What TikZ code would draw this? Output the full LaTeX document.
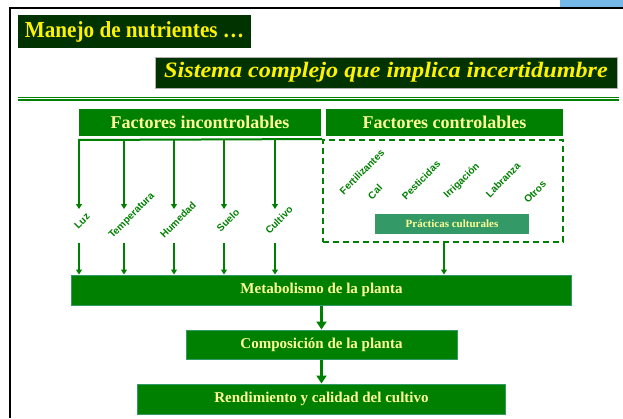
\documentclass[tikz,border=0pt]{standalone}
\usepackage{fontspec}
\setmainfont{Liberation Serif}
\newfontfamily\lsans{Liberation Sans}
\newfontfamily\subfont[FakeStretch=1.1]{Liberation Serif}
\newfontfamily\ttlfont[FakeStretch=0.92]{Liberation Serif}
\usetikzlibrary{arrows.meta}
\definecolor{dkgreen}{HTML}{003300}
\definecolor{mgreen}{HTML}{008000}
\definecolor{sgreen}{HTML}{339966}
\definecolor{pyellow}{HTML}{FFFF99}
\definecolor{skyblue}{HTML}{75B9E8}
\tikzset{
 titlebox/.style={fill=dkgreen, text=yellow, inner sep=0pt},
 factbox/.style={fill=mgreen, text=pyellow, inner sep=0pt, minimum height=27pt, font=\fontsize{18}{20}\selectfont\bfseries},
 flowbox/.style={fill=mgreen, draw=sgreen, line width=1pt, text=pyellow, inner sep=0pt, font=\fontsize{15}{17}\selectfont\bfseries},
 lbl/.style={rotate=45, text=mgreen, font=\lsans\fontsize{10}{11}\selectfont\bfseries, inner sep=0pt},
 arr/.style={draw=mgreen, line width=2pt, -{Triangle[width=6pt,length=5pt]}},
 bigarr/.style={draw=mgreen, line width=3pt, -{Triangle[width=10pt,length=8pt]}},
 dashbox/.style={draw=mgreen, line width=2pt, dash pattern=on 6pt off 4pt, inner sep=0pt},
}
\begin{document}
\begin{tikzpicture}[x=1pt,y=-1pt]
\useasboundingbox (0,0) rectangle (623,418);
% frame
\fill[skyblue] (560,0) rectangle (623,7);
\draw[black, line width=1.5pt] (10,418) -- (10,8) -- (623,8);
% titles
\node[titlebox, minimum width=233pt, minimum height=33pt, font=\ttlfont\fontsize{23}{25}\selectfont\bfseries] (title) at (134.5,31.5) {Manejo de nutrientes \ldots};
\node[titlebox, draw=gray!60, line width=0.6pt, minimum width=462pt, minimum height=31pt, font=\subfont\fontsize{22}{24}\selectfont\bfseries\itshape] (sub) at (386,72.5) {Sistema complejo que implica incertidumbre};
% separator
\coordinate (sepL1) at (18,97.2);
\coordinate (sepR1) at (619,97.2);
\coordinate (sepL2) at (18,100);
\coordinate (sepR2) at (619,100);
\draw[mgreen, line width=1pt] (sepL1) -- (sepR1);
\draw[mgreen, line width=2.2pt] (sepL2) -- (sepR2);
% factor boxes
\node[factbox, minimum width=242pt] (fi) at (200,122.5) {Factores incontrolables};
\node[factbox, minimum width=237pt] (fc) at (444.5,122.5) {Factores controlables};
% dashed box of controllable factors
\node[dashbox, minimum width=240pt, minimum height=102pt] (ctrl) at (443,191) {};
\node[fill=sgreen, text=pyellow, inner sep=0pt, minimum width=154pt, minimum height=20pt, font=\fontsize{11}{12}\selectfont\bfseries] (prac) at (452,224) {Prácticas culturales};
% controllable labels
\node[lbl] (fer) at (362,172) {Fertilizantes};
\node[lbl] (cal) at (375,192) {Cal};
\node[lbl] (pes) at (421,180) {Pesticidas};
\node[lbl] (irr) at (462,181) {Irrigación};
\node[lbl] (lab) at (503,180) {Labranza};
\node[lbl] (otr) at (535,192) {Otros};
% flow boxes
\node[flowbox, minimum width=500pt, minimum height=30pt] (met) at (321.5,290) {Metabolismo de la planta};
\node[flowbox, minimum width=271pt, minimum height=29pt] (comp) at (321.5,344.5) {Composición de la planta};
\node[flowbox, minimum width=368pt, minimum height=30pt] (rend) at (321.5,399) {Rendimiento y calidad del cultivo};
% uncontrollable bar
\coordinate (barL) at (78,140);
\draw[mgreen, line width=2pt] (barL) -- (ctrl.north west);
% uncontrollable labels
\node[lbl] (luz) at (82,221) {Luz};
\node[lbl] (tem) at (132,216) {Temperatura};
\node[lbl] (hum) at (178,220) {Humedad};
\node[lbl] (sue) at (228,220) {Suelo};
\node[lbl] (cul) at (279,220) {Cultivo};
% arrows down
\foreach \n/\x in {1/79,2/124,3/174,4/224,5/275}{
  \coordinate (b\n) at (\x,140);
  \coordinate (t\n) at (\x,209);
  \coordinate (s\n) at (\x,243);
  \draw[arr] (b\n) -- (t\n);
  \draw[arr] (s\n) -- (s\n |- met.north);
}
\coordinate (cbot) at (444,242);
\draw[arr] (cbot) -- (cbot |- met.north);
\draw[bigarr] (met) -- (comp);
\draw[bigarr] (comp) -- (rend);
\end{tikzpicture}
\end{document}
